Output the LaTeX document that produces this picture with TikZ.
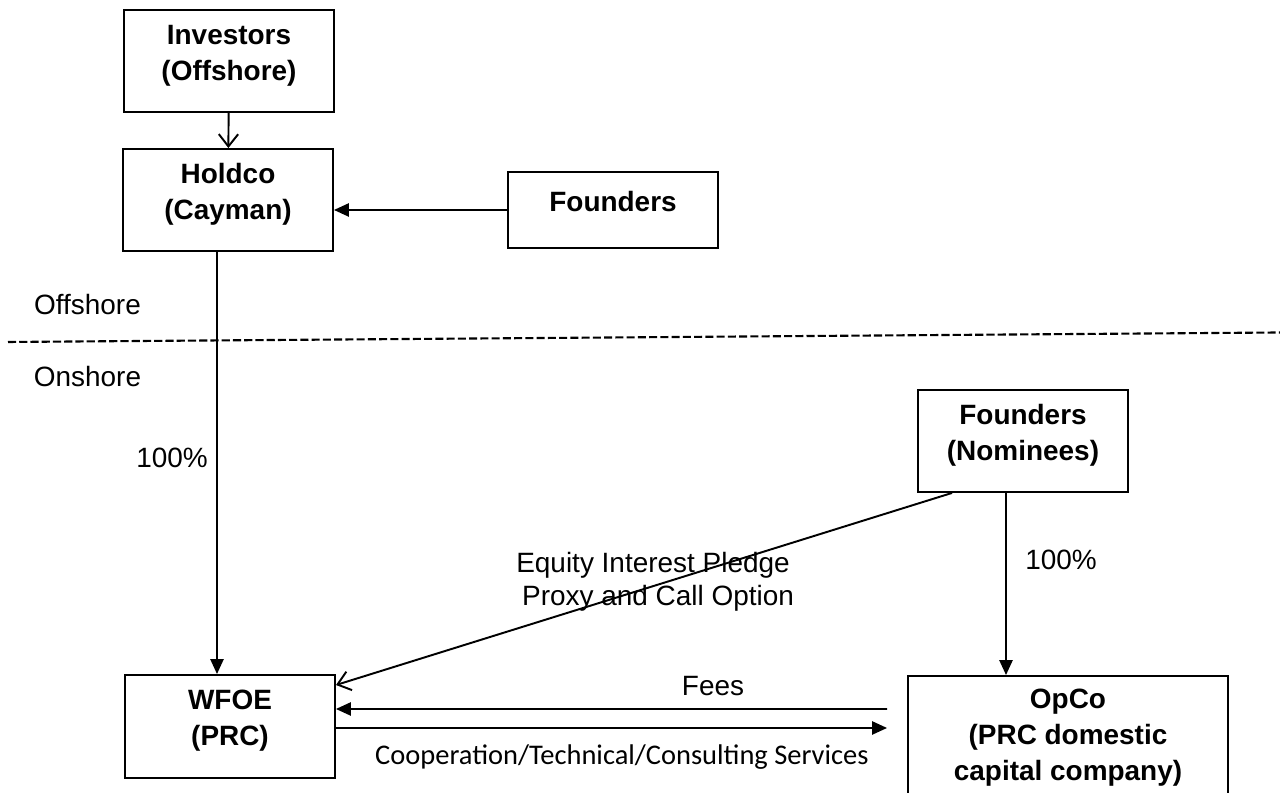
\documentclass[tikz,border=0pt]{standalone}
\usepackage{fontspec}
\setmainfont{Liberation Sans}
\newfontfamily\calibri{Carlito}
\usepackage{tikz}
\usetikzlibrary{arrows.meta,positioning}

% box text sits a little above the middle of its frame
\newcommand{\boxtext}[1]{\raisebox{3.4pt}[\height][\depth]{\begin{tabular}{@{}c@{}}#1\end{tabular}}}

\begin{document}
\begin{tikzpicture}[
		entity/.style={draw,line width=1.1pt,inner sep=0pt,minimum width=4.2cm,minimum height=2.04cm,
			font=\fontsize{15.9}{20.5}\selectfont\bfseries},
		lbl/.style={font=\fontsize{15.9}{19}\selectfont},
		arr/.style={line width=1.1pt,-{Triangle[length=8.5pt,width=7.5pt]}},
		barb/.style={line width=1.1pt,-{Straight Barb[length=7pt,width=11pt]}}]
		\useasboundingbox (0,0) rectangle (25.6,15.86);
		\clip (0,0) rectangle (25.6,15.86);
		% offshore side
		\node[entity] (investors) at (4.58,14.64) {\boxtext{Investors\\(Offshore)}};
		\node[entity] (holdco) at (4.56,11.86) {\boxtext{Holdco\\(Cayman)}};
		\node[entity,minimum height=1.52cm] (founders) at (12.26,11.66) {\boxtext{Founders}};
		% onshore side
		\node[entity] (nominees) at (20.46,7.04) {\boxtext{Founders\\(Nominees)}};
		\node[entity,minimum width=4.2cm,minimum height=2.06cm] (wfoe) at (4.60,1.33) {\boxtext{WFOE\\(PRC)}};
		\node[entity,minimum width=6.4cm,minimum height=2.68cm] (opco) at (21.36,1.00) {\boxtext{OpCo\\(PRC domestic\\capital company)}};
		
		\draw[dashed,line width=1.2pt,dash pattern=on 4.6pt off 1.8pt] (0.16,9.02) -- (25.6,9.21);
		\node[lbl] at (1.75,9.76) {Offshore};
		\node[lbl] at (1.75,8.32) {Onshore};
		
		\draw[barb] (investors) -- (holdco);
		\draw[arr] (founders.west) -- (founders.west -| holdco.east);
		\draw[arr] ([xshift=-0.22cm]holdco.south) coordinate (h) -- (h |- wfoe.north);
		\node[lbl] at (3.44,6.70) {100\%};
		
		\draw[arr] ([xshift=-0.34cm]nominees.south) coordinate (n) -- (n |- opco.north);
		\node[lbl] at (21.22,4.66) {100\%};
		\draw[barb] ([xshift=-1.42cm]nominees.south) -- ([yshift=-0.22cm]wfoe.north east);
		\node[lbl] at (13.06,4.56) {Equity Interest Pledge};
		\node[lbl] at (13.16,3.90) {Proxy and Call Option};
		
		\draw[arr] ([xshift=-0.4cm,yshift=0.68cm]opco.west) -- ([yshift=0.35cm]wfoe.east);
		\node[lbl] at (14.26,2.14) {Fees};
		\draw[arr] ([yshift=-0.03cm]wfoe.east) -- ([xshift=-0.4cm,yshift=0.30cm]opco.west);
		\node[anchor=west,font=\calibri\fontsize{16.2}{19}\selectfont] at (7.38,0.72) {Cooperation/Technical/Consulting Services};
	\end{tikzpicture}
\end{document}
